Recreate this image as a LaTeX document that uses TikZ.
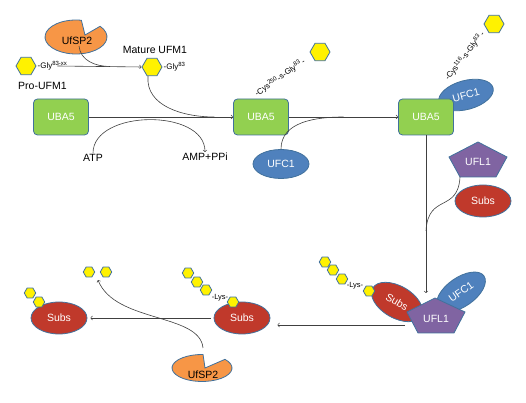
\documentclass[tikz,border=0pt]{standalone}
\usepackage{fontspec}
\setmainfont{Liberation Sans}
\usetikzlibrary{shapes.geometric,calc}
\definecolor{boxgreen}{HTML}{92D050}
\definecolor{edgeblue}{HTML}{41719C}
\definecolor{ufcblue}{HTML}{4F81BD}
\definecolor{subsred}{HTML}{C0392B}
\definecolor{ufsporange}{HTML}{F79646}
\definecolor{uflpurple}{HTML}{8064A2}
\definecolor{linegray}{HTML}{404040}
\tikzset{
  txt/.style={font=\fontsize{10.5}{12}\selectfont,inner sep=1pt},
  uba/.style={txt,draw=edgeblue,fill=boxgreen,line width=0.8pt,rounded corners=4pt,
    minimum width=55pt,minimum height=36pt,text=white},
  ufc/.style={txt,ellipse,draw=edgeblue,fill=ufcblue,line width=0.8pt,
    minimum width=56pt,minimum height=29pt,inner sep=0pt,text=white},
  subs/.style={txt,ellipse,draw=edgeblue,fill=subsred,line width=0.8pt,
    minimum width=56pt,minimum height=32pt,inner sep=0pt,text=white},
  ufm/.style={regular polygon,regular polygon sides=6,draw=edgeblue,fill=yellow,
    line width=0.8pt,minimum size=20pt,inner sep=0pt},
  ufms/.style={ufm,minimum size=11.5pt},
  enzyme/.style={draw=edgeblue,fill=ufsporange,line width=0.8pt},
  ufl/.style={draw=edgeblue,fill=uflpurple,line width=0.8pt},
  ufltxt/.style={txt,text=white},
  gly/.style={font=\fontsize{8}{9}\selectfont,inner sep=1pt},
  cys/.style={font=\fontsize{8}{9}\selectfont,inner sep=0.5pt},
  lys/.style={font=\fontsize{7.5}{9}\selectfont,inner sep=0pt},
  link/.style={draw=linegray,line width=0.6pt},
}
\begin{document}
\begin{tikzpicture}[x=1pt,y=1pt]
  \useasboundingbox (0,0) rectangle (526,403);
  % UFM1 maturation
  \node[ufm] (hexPro) at (26,337) {};
  \node[gly,anchor=west] (proGly) at (hexPro.east) {-Gly\textsuperscript{83-xx}};
  \node[txt,anchor=west] (proLab) at (17,317) {Pro-UFM1};
  \node[ufm] (hexMat) at (152,336) {};
  \node[gly,anchor=west] (matGly) at (hexMat.east) {-Gly\textsuperscript{83}};
  \node[txt] (matLab) at (155,353) {Mature UFM1};
  \filldraw[enzyme] (85,368) -- ($(76,366)+(39:31 and 17)$)
    arc[start angle=39,end angle=-280,x radius=31,y radius=17] -- cycle;
  \node[txt] (ufspA) at (77,362) {UfSP2};
  \draw[link,->] (hexPro.east) ++(21,0) -- (hexMat.west);
  \draw[link] ([xshift=2pt]ufspA.south) to[out=-85,in=180] (110,336.5);
  % activation by UBA5
  \node[uba] (ubaA) at (61,286) {UBA5};
  \node[uba] (ubaB) at (261,286) {UBA5};
  \draw[link,->] (ubaA) -- (ubaB);
  \draw[link] ([xshift=-4pt]hexMat.south) to[out=-95,in=180]
    ($(ubaA.east)!0.87!(ubaB.west)$);
  \node[txt] (atp) at (93,245) {ATP};
  \node[txt] (amp) at (205,246) {AMP+PPi};
  \draw[link,->] (atp.north) to[out=90,in=90] (amp.north);
  \node[cys,rotate=35,anchor=south west] (cysA) at (258,304)
    {-Cys\textsuperscript{250}-s-Gly\textsuperscript{83}\,-};
  \node[ufm] (hexCysA) at (320,351) {};
  % transfer to UFC1
  \node[ufc] (ufcB) at (281,239) {UFC1};
  \node[ufc,rotate=15] (ufcC) at (466,308) {UFC1};
  \node[uba] (ubaC) at (426,286) {UBA5};
  \draw[link,->] (ubaB) -- (ubaC);
  \draw[link] (ufcB.north) to[out=90,in=180] ($(ubaB.east)!0.5!(ubaC.west)$);
  \node[cys,rotate=52,anchor=south west] (cysB) at (450,320)
    {-Cys\textsuperscript{116}-s-Gly\textsuperscript{83}\,-};
  \node[ufm] (hexCysB) at (494,379) {};
  % UFL1 with substrate
  \filldraw[ufl] (478,261) -- (507,246) -- (496,226) -- (460,226) -- (449,246) -- cycle;
  \node[ufltxt] (uflB) at (478,241) {UFL1};
  \node[subs] (subsR) at (483,202) {Subs};
  \coordinate (uflBfoot) at (460,226);
  \coordinate (mergeC) at (426,172);
  \coordinate (downC) at (426,110);
  \draw[link,->] (ubaC.south) -- (downC);
  \draw[link] (uflBfoot) .. controls (458,190) and (428,210) .. (mergeC);
  % ligation complex
  \node[subs,rotate=-30] (subsC) at (397,101) {Subs};
  \node[ufc,rotate=35] (ufcD) at (461,111) {UFC1};
  \filldraw[ufl] (435,105) -- (465,91) -- (454,70) -- (418,70) -- (407,91) -- cycle;
  \node[ufltxt] (uflD) at (436,84) {UFL1};
  \node[ufms] (hexC1) at (325,141) {};
  \node[ufms] (hexC2) at (333,133) {};
  \node[ufms] (hexC3) at (342,124) {};
  \node[lys] (lysC) at (355,117) {-Lys-};
  \node[ufms] (hexC4) at (369,112) {};
  % modified substrate and deconjugation
  \node[subs] (subsB) at (242,85) {Subs};
  \node[ufms] (hexB1) at (188,130) {};
  \node[ufms] (hexB2) at (197,121) {};
  \node[ufms] (hexB3) at (206,113) {};
  \node[lys] (lysB) at (220,105) {-Lys-};
  \node[ufms] (hexB4) at (233,101) {};
  \coordinate (leftC) at (405,78);
  \draw[link,->,shorten >=7pt] (leftC) -- (subsB.east |- leftC);
  \node[subs] (subsL) at (59,85) {Subs};
  \node[ufms] (hexL1) at (30,110) {};
  \node[ufms] (hexL2) at (39,101) {};
  \draw[link,->,shorten <=3pt,shorten >=3pt] (subsB) -- (subsL);
  \node[ufms] (hexF1) at (89,131) {};
  \node[ufms] (hexF2) at (106,131) {};
  \filldraw[enzyme] (205,35) -- ($(202,35)+(40:30 and 13.5)$)
    arc[start angle=40,end angle=-272,x radius=30,y radius=13.5] -- cycle;
  \node[txt] (ufspB) at (203,28) {UfSP2};
  \coordinate (ufspBtop) at (203,55);
  \coordinate (freeTip) at (98,123);
  \draw[link,->] (ufspBtop) .. controls (200,90) and (115,80) .. (freeTip);
\end{tikzpicture}
\end{document}
